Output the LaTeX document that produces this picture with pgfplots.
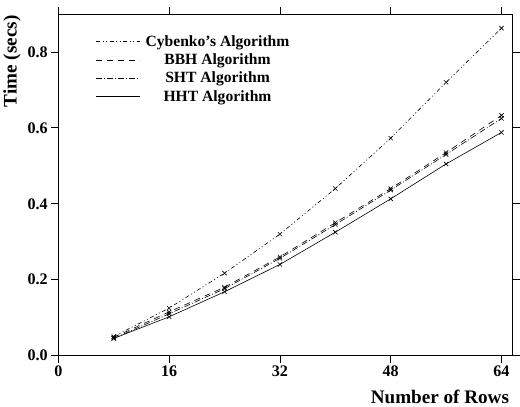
\documentclass[border=0pt]{standalone}
\usepackage{fontspec}
\setmainfont{Liberation Serif}
\usepackage{pgfplots}
\pgfplotsset{compat=1.18}
\begin{document}
\begin{tikzpicture}
\begin{axis}[
    scale only axis,
    width=451pt,
    height=339pt,
    xmin=0, xmax=65.6,
    ymin=0, ymax=0.9,
    xtick={0,16,32,48,64},
    ytick={0,0.2,0.4,0.6,0.8},
    yticklabel style={/pgf/number format/.cd,fixed,fixed zerofill,precision=1},
    /pgf/number format/assume math mode=true,
    tick align=outside,
    major tick length=7pt,
    tick style={black, line width=0.8pt},
    axis line style={line width=0.9pt},
    ticklabel style={font=\fontsize{16}{18}\selectfont\bfseries},
    xlabel={Number of Rows},
    ylabel={Time (secs)},
    label style={font=\fontsize{19}{21}\selectfont\bfseries},
    xlabel style={at={(ticklabel cs:1)}, anchor=north east, yshift=-6pt},
    ylabel style={at={(ticklabel cs:0.85)}, xshift=4pt},
    legend style={at={(0.075,0.95)}, anchor=north west, draw=none, fill=none,
        font=\fontsize{15.5}{18}\selectfont\bfseries, row sep=2pt,
        cells={anchor=center}, nodes={inner xsep=5pt}},
    legend image code/.code={\draw[#1] (0pt,0pt) -- (44pt,0pt);},
    every axis plot/.append style={black, line width=0.6pt, mark=x,
        mark size=3pt, mark options={solid, line width=0.6pt}},
]
\addplot[dash pattern=on 4pt off 2.5pt on 1pt off 2.5pt on 1pt off 2.5pt] coordinates {
(8,0.050) (16,0.125) (24,0.217) (32,0.320) (40,0.440) (48,0.573) (56,0.720) (64,0.863)};
\addlegendentry{Cybenko's Algorithm}
\addplot[dash pattern=on 6pt off 5pt] coordinates {
(8,0.048) (16,0.115) (24,0.180) (32,0.260) (40,0.350) (48,0.440) (56,0.535) (64,0.633)};
\addlegendentry{BBH Algorithm}
\addplot[dash pattern=on 6pt off 2pt on 1pt off 2pt] coordinates {
(8,0.045) (16,0.110) (24,0.176) (32,0.256) (40,0.345) (48,0.436) (56,0.530) (64,0.625)};
\addlegendentry{SHT Algorithm}
\addplot[solid] coordinates {
(8,0.045) (16,0.102) (24,0.168) (32,0.240) (40,0.325) (48,0.413) (56,0.505) (64,0.588)};
\addlegendentry{HHT Algorithm}
\end{axis}
\path ([yshift=14pt]current axis.north west);
\end{tikzpicture}
\end{document}
